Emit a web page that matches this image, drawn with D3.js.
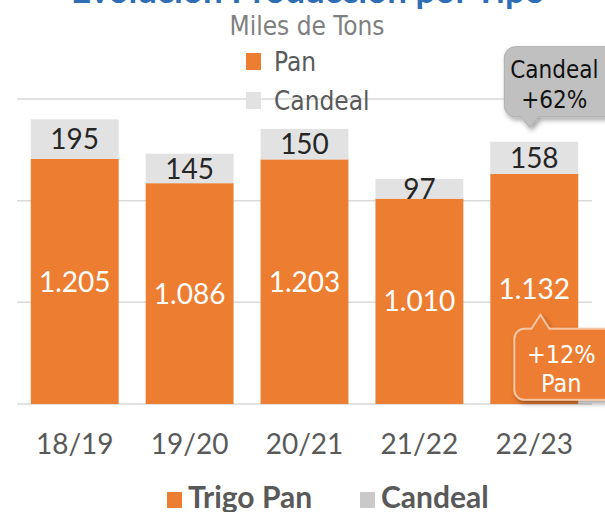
<!DOCTYPE html>
<html>
<head>
<meta charset="utf-8">
<script src="https://cdn.jsdelivr.net/npm/d3@7"></script>
<style>
  body { margin: 0; background: #fff; }
  svg { display: block; }
</style>
</head>
<body>
<svg id="chart" width="605" height="512"></svg>
<script>
// chart data
const seasons = ["18/19", "19/20", "20/21", "21/22", "22/23"];
const panValues = [1205, 1086, 1203, 1010, 1132];
const candealValues = [195, 145, 150, 97, 158];
const gridTicks = [0, 500, 1000, 1500];
const legendTop = ["Pan", "Candeal"];
const legendBottom = ["Trigo Pan", "Candeal"];
const candealNote = ["Candeal", "+62%"];
const panNote = ["+12%", "Pan"];

const orange = "#ed7d31";
const lightGray = "#e2e2e2";
const numFont = "Lato, 'Open Sans', sans-serif";
const tahoma = "'DejaVu Sans Condensed', 'DejaVu Sans', sans-serif";

const svg = d3.select("#chart");

// number format with dot as thousands separator
const fmt = d3.formatLocale({decimal: ",", thousands: ".", grouping: [3], currency: ["", ""]}).format(",d");

const x = d3.scaleBand()
    .domain(seasons)
    .range([17, 592])
    .paddingInner(0.235)
    .paddingOuter(0.12);

const y = d3.scaleLinear()
    .domain([0, 1500])
    .range([404, 99]);

// shadow filter for the callouts
const defs = svg.append("defs");
const shadow = defs.append("filter").attr("id", "shadow")
    .attr("x", "-20%").attr("y", "-20%").attr("width", "150%").attr("height", "150%");
shadow.append("feDropShadow")
    .attr("dx", 2).attr("dy", 3).attr("stdDeviation", 2.5)
    .attr("flood-color", "#000").attr("flood-opacity", 0.35);

// title (cut off at the top, as in the source picture)
svg.append("text")
    .attr("x", 308).attr("y", 3)
    .attr("text-anchor", "middle")
    .style("font-family", numFont).style("font-weight", "bold")
    .style("font-size", "35px").style("fill", "#2f6eb5")
    .text("Evolución Producción por Tipo");

svg.append("text")
    .attr("x", 307).attr("y", 35)
    .attr("text-anchor", "middle")
    .style("font-family", tahoma).style("font-size", "26px").style("fill", "#7f7f7f")
    .text("Miles de Tons");

// gridlines
svg.append("g").selectAll("line")
    .data(gridTicks)
    .join("line")
    .attr("x1", 17).attr("x2", 592)
    .attr("y1", d => y(d)).attr("y2", d => y(d))
    .attr("stroke", "#d9d9d9").attr("stroke-width", 1.5);

// top legend
const lt = svg.append("g");
lt.selectAll("rect")
    .data(legendTop)
    .join("rect")
    .attr("x", 246).attr("y", (d, i) => 53 + i * 39)
    .attr("width", 15).attr("height", 17)
    .attr("fill", (d, i) => i == 0 ? orange : lightGray);
lt.selectAll("text")
    .data(legendTop)
    .join("text")
    .attr("x", 274).attr("y", (d, i) => 71 + i * 39)
    .style("font-family", tahoma).style("font-size", "26px").style("fill", "#595959")
    .text(d => d);

// stacked bars
const bars = svg.append("g");
bars.selectAll(".pan")
    .data(seasons)
    .join("rect")
    .attr("class", "pan")
    .attr("x", d => x(d)).attr("width", x.bandwidth())
    .attr("y", (d, i) => y(panValues[i]))
    .attr("height", (d, i) => y(0) - y(panValues[i]))
    .attr("fill", orange);
bars.selectAll(".candeal")
    .data(seasons)
    .join("rect")
    .attr("class", "candeal")
    .attr("x", d => x(d)).attr("width", x.bandwidth())
    .attr("y", (d, i) => y(panValues[i] + candealValues[i]))
    .attr("height", (d, i) => y(panValues[i]) - y(panValues[i] + candealValues[i]))
    .attr("fill", lightGray);

// value labels
bars.selectAll(".panLabel")
    .data(seasons)
    .join("text")
    .attr("class", "panLabel")
    .attr("x", d => x(d) + x.bandwidth() / 2)
    .attr("y", (d, i) => (y(0) + y(panValues[i])) / 2)
    .attr("dy", "0.36em")
    .attr("text-anchor", "middle")
    .style("font-family", numFont).style("font-size", "28px").style("fill", "#fff")
    .text((d, i) => fmt(panValues[i]));
bars.selectAll(".candealLabel")
    .data(seasons)
    .join("text")
    .attr("class", "candealLabel")
    .attr("x", d => x(d) + x.bandwidth() / 2)
    .attr("y", (d, i) => (y(panValues[i]) + y(panValues[i] + candealValues[i])) / 2)
    .attr("dy", "0.36em")
    .attr("text-anchor", "middle")
    .style("font-family", numFont).style("font-size", "28px").style("fill", "#262626")
    .text((d, i) => candealValues[i]);

// x axis labels
svg.append("g").selectAll("text")
    .data(seasons)
    .join("text")
    .attr("x", d => x(d) + x.bandwidth() / 2)
    .attr("y", 454)
    .attr("text-anchor", "middle")
    .style("font-family", numFont).style("font-size", "28px").style("fill", "#595959")
    .text(d => d);

// bottom legend
const lb = svg.append("g");
const lbX = [167, 360];
lb.selectAll("rect")
    .data(legendBottom)
    .join("rect")
    .attr("x", (d, i) => lbX[i]).attr("y", 492)
    .attr("width", 15).attr("height", 16)
    .attr("fill", (d, i) => i == 0 ? orange : "#c9c9c9");
lb.selectAll("text")
    .data(legendBottom)
    .join("text")
    .attr("x", (d, i) => lbX[i] + 21).attr("y", 508)
    .style("font-family", numFont).style("font-weight", "bold")
    .style("font-size", "30px").style("fill", "#595959")
    .text(d => d);

// callout path: rounded box with a small pointer
function callout(x0, y0, x1, y1, tipX, tipY, r, up) {
    const p = d3.path();
    const b0 = tipX - 9, b1 = tipX + 9;
    p.moveTo(x0 + r, y0);
    if (up) { p.lineTo(b0, y0); p.lineTo(tipX, tipY); p.lineTo(b1, y0); }
    p.lineTo(x1 - r, y0);
    p.arcTo(x1, y0, x1, y0 + r, r);
    p.lineTo(x1, y1 - r);
    p.arcTo(x1, y1, x1 - r, y1, r);
    if (!up) { p.lineTo(b1, y1); p.lineTo(tipX, tipY); p.lineTo(b0, y1); }
    p.lineTo(x0 + r, y1);
    p.arcTo(x0, y1, x0, y1 - r, r);
    p.lineTo(x0, y0 + r);
    p.arcTo(x0, y0, x0 + r, y0, r);
    p.closePath();
    return p.toString();
}

const last = seasons[seasons.length - 1];
const li = seasons.length - 1;
const bx = x(last);

// candeal callout above the last bar
const cTipX = bx + x.bandwidth() * 0.45;
const cTipY = y(panValues[li] + candealValues[li]) - 14;
const cg = svg.append("g");
cg.append("path")
    .attr("d", callout(bx + 14, cTipY - 81, bx + 130, cTipY - 11, cTipX, cTipY, 11, false))
    .attr("fill", "#c0c0c0").attr("stroke", "#adadad").attr("stroke-width", 1)
    .attr("filter", "url(#shadow)");
cg.selectAll("text")
    .data(candealNote)
    .join("text")
    .attr("x", bx + 64).attr("y", (d, i) => cTipY - 50 + i * 30)
    .attr("text-anchor", "middle")
    .style("font-family", tahoma).style("font-size", "24px").style("fill", "#111")
    .text(d => d);

// pan callout inside the last bar
const pTipX = bx + x.bandwidth() * 0.57;
const pTipY = y(panValues[li]) + 141;
const pg = svg.append("g");
pg.append("path")
    .attr("d", callout(bx + 24, pTipY + 14, bx + 130, pTipY + 85, pTipX, pTipY, 10, true))
    .attr("fill", orange).attr("stroke", "#f6c5a3").attr("stroke-width", 2)
    .attr("filter", "url(#shadow)");
pg.selectAll("text")
    .data(panNote)
    .join("text")
    .attr("x", bx + 71).attr("y", (d, i) => pTipY + 48 + i * 29)
    .attr("text-anchor", "middle")
    .style("font-family", tahoma).style("font-size", "25px").style("fill", "#fff")
    .text(d => d);
</script>
</body>
</html>
